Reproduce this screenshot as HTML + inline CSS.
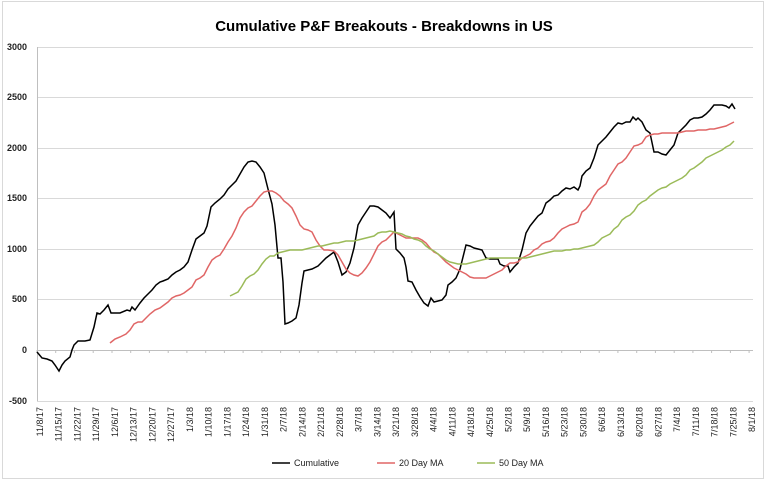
<!DOCTYPE html>
<html><head><meta charset="utf-8"><style>
html,body{margin:0;padding:0;background:#fff;}
svg{display:block;font-family:"Liberation Sans",Arial,sans-serif;}
</style></head><body>
<svg width="767" height="481" viewBox="0 0 767 481">
<rect x="0" y="0" width="767" height="481" fill="#fff"/>
<rect x="2.5" y="1.5" width="761" height="477" fill="none" stroke="#d9d9d9"/>
<text x="384" y="31" text-anchor="middle" font-size="15" font-weight="bold" fill="#000">Cumulative P&amp;F Breakouts - Breakdowns in US</text>
<g stroke="#d9d9d9" stroke-width="1">
<line x1="37" y1="47.5" x2="753" y2="47.5"/><line x1="37" y1="97.5" x2="753" y2="97.5"/>
<line x1="37" y1="148.5" x2="753" y2="148.5"/><line x1="37" y1="198.5" x2="753" y2="198.5"/>
<line x1="37" y1="249.5" x2="753" y2="249.5"/><line x1="37" y1="299.5" x2="753" y2="299.5"/>
<line x1="37" y1="401.5" x2="753" y2="401.5"/>
</g>
<line x1="37" y1="350.5" x2="753" y2="350.5" stroke="#bfbfbf"/>
<line x1="37.5" y1="47" x2="37.5" y2="401" stroke="#bfbfbf"/>
<g font-size="9" font-weight="bold" fill="#222" text-anchor="end">
<text x="27" y="50">3000</text><text x="27" y="100">2500</text><text x="27" y="151">2000</text>
<text x="27" y="201">1500</text><text x="27" y="252">1000</text><text x="27" y="302">500</text>
<text x="27" y="353">0</text><text x="27" y="404">-500</text>
</g>
<g stroke="#bfbfbf">
<line x1="37" x2="37" y1="350" y2="353"/><line x1="55.7" x2="55.7" y1="350" y2="353"/><line x1="74.5" x2="74.5" y1="350" y2="353"/><line x1="93.2" x2="93.2" y1="350" y2="353"/><line x1="112" x2="112" y1="350" y2="353"/><line x1="130.7" x2="130.7" y1="350" y2="353"/><line x1="149.4" x2="149.4" y1="350" y2="353"/><line x1="168.2" x2="168.2" y1="350" y2="353"/><line x1="186.9" x2="186.9" y1="350" y2="353"/><line x1="205.7" x2="205.7" y1="350" y2="353"/><line x1="224.4" x2="224.4" y1="350" y2="353"/><line x1="243.1" x2="243.1" y1="350" y2="353"/><line x1="261.9" x2="261.9" y1="350" y2="353"/><line x1="280.6" x2="280.6" y1="350" y2="353"/><line x1="299.4" x2="299.4" y1="350" y2="353"/><line x1="318.1" x2="318.1" y1="350" y2="353"/><line x1="336.8" x2="336.8" y1="350" y2="353"/><line x1="355.6" x2="355.6" y1="350" y2="353"/><line x1="374.3" x2="374.3" y1="350" y2="353"/><line x1="393.1" x2="393.1" y1="350" y2="353"/><line x1="411.8" x2="411.8" y1="350" y2="353"/><line x1="430.5" x2="430.5" y1="350" y2="353"/><line x1="449.3" x2="449.3" y1="350" y2="353"/><line x1="468" x2="468" y1="350" y2="353"/><line x1="486.8" x2="486.8" y1="350" y2="353"/><line x1="505.5" x2="505.5" y1="350" y2="353"/><line x1="524.2" x2="524.2" y1="350" y2="353"/><line x1="543" x2="543" y1="350" y2="353"/><line x1="561.7" x2="561.7" y1="350" y2="353"/><line x1="580.5" x2="580.5" y1="350" y2="353"/><line x1="599.2" x2="599.2" y1="350" y2="353"/><line x1="617.9" x2="617.9" y1="350" y2="353"/><line x1="636.7" x2="636.7" y1="350" y2="353"/><line x1="655.4" x2="655.4" y1="350" y2="353"/><line x1="674.2" x2="674.2" y1="350" y2="353"/><line x1="692.9" x2="692.9" y1="350" y2="353"/><line x1="711.6" x2="711.6" y1="350" y2="353"/><line x1="730.4" x2="730.4" y1="350" y2="353"/><line x1="749.1" x2="749.1" y1="350" y2="353"/>
</g>
<g font-size="9" fill="#222" text-anchor="end">
<text transform="translate(43,407) rotate(-90)">11/8/17</text>
<text transform="translate(61.7,407) rotate(-90)">11/15/17</text>
<text transform="translate(80.5,407) rotate(-90)">11/22/17</text>
<text transform="translate(99.2,407) rotate(-90)">11/29/17</text>
<text transform="translate(118,407) rotate(-90)">12/6/17</text>
<text transform="translate(136.7,407) rotate(-90)">12/13/17</text>
<text transform="translate(155.4,407) rotate(-90)">12/20/17</text>
<text transform="translate(174.2,407) rotate(-90)">12/27/17</text>
<text transform="translate(192.9,407) rotate(-90)">1/3/18</text>
<text transform="translate(211.7,407) rotate(-90)">1/10/18</text>
<text transform="translate(230.4,407) rotate(-90)">1/17/18</text>
<text transform="translate(249.1,407) rotate(-90)">1/24/18</text>
<text transform="translate(267.9,407) rotate(-90)">1/31/18</text>
<text transform="translate(286.6,407) rotate(-90)">2/7/18</text>
<text transform="translate(305.4,407) rotate(-90)">2/14/18</text>
<text transform="translate(324.1,407) rotate(-90)">2/21/18</text>
<text transform="translate(342.8,407) rotate(-90)">2/28/18</text>
<text transform="translate(361.6,407) rotate(-90)">3/7/18</text>
<text transform="translate(380.3,407) rotate(-90)">3/14/18</text>
<text transform="translate(399.1,407) rotate(-90)">3/21/18</text>
<text transform="translate(417.8,407) rotate(-90)">3/28/18</text>
<text transform="translate(436.5,407) rotate(-90)">4/4/18</text>
<text transform="translate(455.3,407) rotate(-90)">4/11/18</text>
<text transform="translate(474,407) rotate(-90)">4/18/18</text>
<text transform="translate(492.8,407) rotate(-90)">4/25/18</text>
<text transform="translate(511.5,407) rotate(-90)">5/2/18</text>
<text transform="translate(530.2,407) rotate(-90)">5/9/18</text>
<text transform="translate(549,407) rotate(-90)">5/16/18</text>
<text transform="translate(567.7,407) rotate(-90)">5/23/18</text>
<text transform="translate(586.5,407) rotate(-90)">5/30/18</text>
<text transform="translate(605.2,407) rotate(-90)">6/6/18</text>
<text transform="translate(623.9,407) rotate(-90)">6/13/18</text>
<text transform="translate(642.7,407) rotate(-90)">6/20/18</text>
<text transform="translate(661.4,407) rotate(-90)">6/27/18</text>
<text transform="translate(680.2,407) rotate(-90)">7/4/18</text>
<text transform="translate(698.9,407) rotate(-90)">7/11/18</text>
<text transform="translate(717.6,407) rotate(-90)">7/18/18</text>
<text transform="translate(736.4,407) rotate(-90)">7/25/18</text>
<text transform="translate(755.1,407) rotate(-90)">8/1/18</text>
</g>
<polyline fill="none" stroke="#000" stroke-width="1.5" points="37,352 42,358 47,359 52,361 55,365 59,371 62,365 65,361 70,357 72,350 74,345 78,341 85,341 90,340 94,327 97,313 100,314 104,310 108,305 111,313 115,313 120,313 127,310 130,311 132,307 135,310 140,303 144,298 148,294 152,290 156,285 160,282 163,281 168,279 172,275 176,272 180,270 184,267 188,262 192,250 196,239 200,236 204,233 207,226 211,207 215,203 220,199 224,195 228,189 232,185 236,181 240,174 244,167 248,162 252,161 256,162 260,167 264,173 268,189 272,204 275,225 278,258 281,258 283,282 285,324 288,323 292,321 296,318 299,305 302,283 304,271 308,270 312,269 318,266 322,262 326,258 330,255 334,252 338,262 342,275 346,272 350,263 354,248 358,225 362,218 366,212 370,206 374,206 378,207 382,210 386,213 390,218 394,212 396,249 400,253 404,258 406,267 408,281 412,282 416,290 420,297 424,303 428,306 431,298 434,302 438,301 442,300 446,295 448,285 452,282 456,278 460,269 466,245 470,246 474,248 478,249 482,250 486,258 490,259 494,259 498,259 500,264 504,266 508,266 510,272 514,267 518,263 522,250 526,233 530,226 534,221 538,216 542,213 546,203 550,200 554,196 558,195 562,191 566,188 570,189 574,187 578,190 580,186 582,176 586,171 590,168 594,158 598,145 602,141 606,137 610,132 614,127 618,123 622,124 626,122 630,122 633,117 636,120 638,118 642,122 646,130 650,133 654,152 658,152 662,154 666,155 670,150 674,145 678,133 682,129 686,125 690,120 694,118 698,118 702,117 706,114 710,110 714,105 718,105 722,105 726,106 729,108 732,104 735,109"/>
<polyline fill="none" stroke="#e06666" stroke-width="1.5" points="110,343 115,339 120,337 126,334 130,330 134,324 138,322 142,322 146,318 150,314 155,310 160,308 164,305 168,302 172,298 176,296 180,295 184,293 188,290 192,287 196,280 200,278 204,275 208,267 212,260 216,257 220,255 224,249 228,242 232,236 236,228 240,218 244,212 248,208 252,206 256,201 260,196 264,192 268,191 272,191 276,193 280,196 284,201 288,204 292,208 296,216 300,225 304,229 308,230 312,232 316,240 320,246 324,250 328,250 334,251 338,255 342,262 346,269 350,273 354,275 358,276 362,273 366,268 370,262 374,254 378,246 382,242 386,240 390,236 394,232 398,234 402,236 406,238 410,238 414,238 418,238 422,240 426,243 430,248 434,252 438,254 442,258 446,262 450,265 454,268 458,270 462,272 466,274 470,277 474,278 478,278 482,278 486,278 490,276 494,274 498,272 502,270 506,266 510,263 514,263 518,262 522,258 526,256 530,254 534,250 538,248 542,244 546,242 550,241 554,238 558,233 562,229 566,227 570,225 574,224 578,222 582,212 586,209 590,204 594,196 598,190 602,187 606,184 610,176 614,170 618,164 622,162 626,158 630,152 634,146 638,145 642,143 646,137 650,135 654,134 658,134 662,133 666,133 670,133 674,133 678,133 682,132 686,131 690,131 694,131 698,130 702,130 706,130 710,129 714,129 718,128 722,127 726,126 730,124 734,122"/>
<polyline fill="none" stroke="#9bbb59" stroke-width="1.5" points="230,296 234,294 238,292 242,286 246,279 250,276 254,274 258,270 262,264 266,259 270,256 274,256 278,253 282,252 286,251 290,250 294,250 298,250 302,250 306,249 310,248 314,247 318,246 322,246 326,245 330,244 334,243 338,243 342,242 346,241 350,241 354,241 358,240 362,239 366,238 370,237 374,236 378,233 382,232 386,232 390,231 394,232 398,233 402,234 406,236 410,237 414,239 418,240 422,242 426,246 430,249 434,251 438,254 442,257 446,260 450,262 454,263 458,264 462,264 466,264 470,263 474,262 478,261 482,260 486,259 490,258 494,258 498,258 502,258 506,258 510,258 514,258 518,258 522,258 526,258 530,257 534,256 538,255 542,254 546,253 550,252 554,251 558,251 562,251 566,250 570,250 574,249 578,249 582,248 586,247 590,246 594,245 598,242 602,238 606,236 610,234 614,229 618,226 622,220 626,217 630,215 634,211 638,205 642,202 646,200 650,196 654,193 658,190 662,188 666,187 670,184 674,182 678,180 682,178 686,175 690,170 694,168 698,165 702,162 706,158 710,156 714,154 718,152 722,150 726,147 730,145 734,141"/>
<g font-size="9" fill="#222">
<line x1="272" y1="463" x2="290" y2="463" stroke="#000" stroke-width="1.5"/><text x="294" y="466">Cumulative</text>
<line x1="377" y1="463" x2="395" y2="463" stroke="#e06666" stroke-width="1.5"/><text x="399" y="466">20 Day MA</text>
<line x1="477" y1="463" x2="495" y2="463" stroke="#9bbb59" stroke-width="1.5"/><text x="499" y="466">50 Day MA</text>
</g>
</svg>
</body></html>
